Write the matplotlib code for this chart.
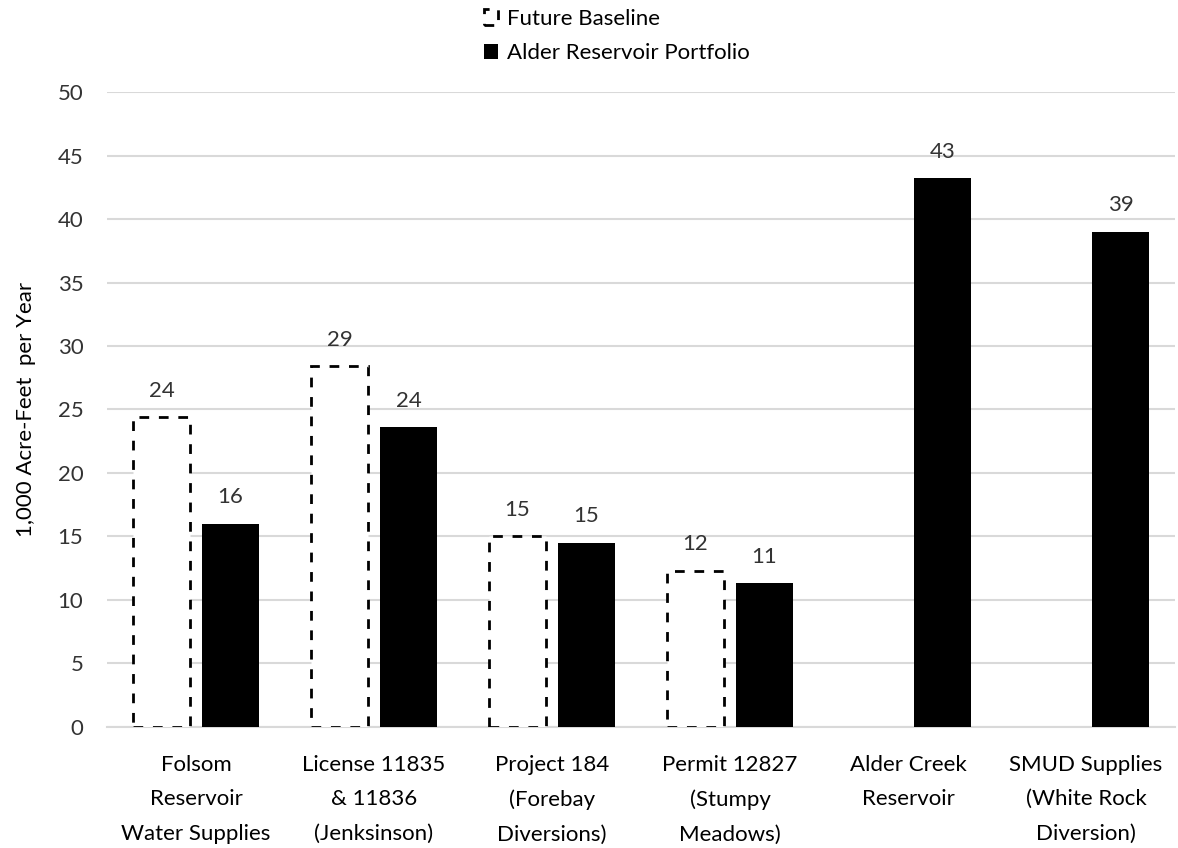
import matplotlib.pyplot as plt
import numpy as np

plt.rcParams['font.family'] = ['Lato', 'DejaVu Sans']

categories = ["Folsom\nReservoir\nWater Supplies",
              "License 11835\n& 11836\n(Jenksinson)",
              "Project 184\n(Forebay\nDiversions)",
              "Permit 12827\n(Stumpy\nMeadows)",
              "Alder Creek\nReservoir",
              "SMUD Supplies\n(White Rock\nDiversion)"]
baseline = [24.4, 28.4, 15.0, 12.3, np.nan, np.nan]
baseline_labels = ["24", "29", "15", "12", "", ""]
alder = [16.0, 23.6, 14.5, 11.3, 43.2, 39.0]
alder_labels = ["16", "24", "15", "11", "43", "39"]

fig = plt.figure(figsize=(11.78, 8.48), dpi=100)
ax = fig.add_axes([0.0908, 0.1427, 0.9066, 0.7488])

x = np.arange(len(categories))
w = 0.32
off = 0.194

b1 = ax.bar(x - off, baseline, w, facecolor='white', edgecolor='black',
            linewidth=2, linestyle=(0, (3.5, 3.5)), label='Future Baseline', zorder=3)
b2 = ax.bar(x + off, alder, w, color='black', label='Alder Reservoir Portfolio', zorder=3)

for xi, v, t in zip(x - off, baseline, baseline_labels):
    if t:
        ax.text(xi, v + 1.3, t, ha='center', va='bottom', fontsize=16, color='#333333')
for xi, v, t in zip(x + off, alder, alder_labels):
    ax.text(xi, v + 1.3, t, ha='center', va='bottom', fontsize=16, color='#333333')

ax.set_xlim(-0.5, len(categories) - 0.5)
ax.set_ylim(0, 50)
ax.set_yticks(range(0, 51, 5))
ax.set_xticks(x)
ax.set_xticklabels(categories, fontsize=16, linespacing=1.9)
ax.tick_params(axis='y', labelsize=16, length=0, pad=17, colors='#333333')
ax.tick_params(axis='x', length=0, pad=20)
ax.grid(axis='y', color='#d9d9d9', linewidth=1.5, zorder=0)
for s in ['top', 'right', 'left']:
    ax.spines[s].set_visible(False)
ax.spines['bottom'].set_color('#d9d9d9')
ax.spines['bottom'].set_linewidth(1.5)
ax.set_ylabel("1,000 Acre-Feet  per Year", fontsize=16)
ax.yaxis.set_label_coords(-0.066, 0.5)

fig.legend(handles=[b1, b2], loc='upper left', bbox_to_anchor=(0.398, 1.008),
           ncol=1, frameon=False, fontsize=16, handlelength=0.6, handleheight=0.7,
           handletextpad=0.4, labelspacing=0.65, borderpad=0.2)

fig.savefig('out.png', dpi=100)
